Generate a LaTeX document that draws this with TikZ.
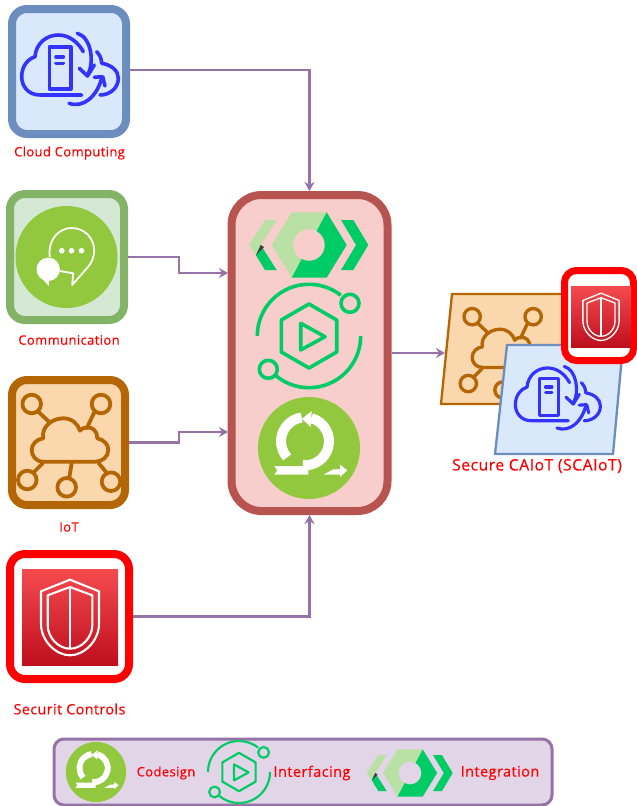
\documentclass[tikz,border=0pt]{standalone}
\usepackage{fontspec}
\setmainfont{Open Sans}[LetterSpace=3,FakeBold=.35]
\usetikzlibrary{arrows.meta,shadows}
\definecolor{linkcol}{HTML}{9673A6}
\definecolor{leafcol}{HTML}{92C83E}
\definecolor{mintcol}{HTML}{00CC66}
\definecolor{palecol}{HTML}{B9E0A5}
\definecolor{netcol}{HTML}{3333FF}
\definecolor{iotcol}{HTML}{B46504}
\definecolor{iotfill}{HTML}{FAD7AC}
\definecolor{cloudcol}{HTML}{6C8EBF}
\definecolor{cloudfill}{HTML}{DAE8FC}
\definecolor{commcol}{HTML}{82B366}
\definecolor{commfill}{HTML}{D5E8D4}
\definecolor{corecol}{HTML}{B85450}
\definecolor{corefill}{HTML}{F8CECC}
\definecolor{legendfill}{HTML}{E1D5E7}
\definecolor{paneltop}{HTML}{F54B4F}
\definecolor{panelbot}{HTML}{BE0F1E}

\newcommand{\cloudicon}[3]{
\begin{scope}[shift={(#1,#2)},scale=#3,draw=netcol,line width=#3*3.6pt,line cap=round,line join=round]
    \draw (12.7,23) -- (-29,23) .. controls (-41,23) and (-47.3,14) .. (-47.3,4.7) .. controls (-47.3,-6) and (-41,-13) .. (-34,-15.3) .. controls (-33,-29) and (-22,-37) .. (-10.7,-37) .. controls (0,-37) and (9,-30) .. (14.3,-20.3);
    \draw (27.7,-20.3) .. controls (31,-17) and (32.5,-13) .. (32.7,-8.7) .. controls (43,-7) and (49.3,-1) .. (49.3,6.3) .. controls (49.3,16) and (41,23) .. (31,23);
    \draw (-19.7,-25.3) rectangle (1.7,17);
    \draw (-13,-15.3) -- (-5.7,-15.3);
    \draw (-13,-8.7) -- (-5.7,-8.7);
    \draw (8.3,-38.7) .. controls (22,-35) and (26,-10) .. (18.5,3);
    \draw (10.3,-3.7) -- (18.5,4) -- (25.3,-7);
    \draw (0,31.3) .. controls (14.3,36.3) and (27.7,24.7) .. (32.7,6.3);
    \draw (25.3,5.3) -- (33.7,4.7) -- (36,14);
\end{scope}
}

\newcommand{\iothub}[3]{
\begin{scope}[shift={(#1,#2)},scale=#3,draw=iotcol,line width=#3*3.8pt,line cap=round,line join=round]
    \draw (-25.7,18.7) .. controls (-33,18.7) and (-37.3,13) .. (-37.3,7) .. controls (-37.3,1) and (-32,-4) .. (-25.7,-4.7) .. controls (-28,-16) and (-17,-24.7) .. (-5.7,-24.7) .. controls (3,-24.7) and (9,-19) .. (11,-12.3) .. controls (13,-16) and (22,-17) .. (25.3,-13) .. controls (27.5,-11) and (28.3,-8) .. (28.3,-4.7) .. controls (35,-3) and (39.3,1) .. (39.3,7) .. controls (39.3,14) and (33,18.7) .. (26,18.7) -- cycle;
    \draw (-37.3,-39) circle (9.3);
    \draw (32,-39) circle (9.3);
    \draw (-41.7,37) circle (9.3);
    \draw (-2.3,44.3) circle (9.3);
    \draw (42,38.7) circle (9.3);
    \draw (-30.7,-31.3) -- (-19,-20.3);
    \draw (25.3,-30.7) -- (17.7,-14.7);
    \draw (-35.7,29.7) -- (-26.3,20.3);
    \draw (0.3,34.3) -- (2.7,20.3);
    \draw (37.7,29.7) -- (29.3,19.7);
\end{scope}
}

\newcommand{\shieldicon}[3]{
\begin{scope}[shift={(#1,#2)},scale=#3,draw=white,line width=#3*2.1pt,line join=round]
    \draw (0,-37.3) -- (29,-25.7) -- (29,6.7) .. controls (29,24) and (14,38.3) .. (0,38.3) .. controls (-14,38.3) and (-29,24) .. (-29,6.7) -- (-29,-25.7) -- cycle;
    \draw (0,-30) -- (22.3,-21.7) -- (22.3,8.3) .. controls (22.3,20) and (12,31.7) .. (0,31.7) .. controls (-12,31.7) and (-22.3,20) .. (-22.3,8.3) -- (-22.3,-21.7) -- cycle;
    \draw (0,-30) -- (0,31.7);
\end{scope}
}

\newcommand{\hexlogo}[4]{
\begin{scope}[shift={(#1,#2)},scale=#3]
    \fill [palecol] (-17.3,-32.7) -- (17.7,-32.7) -- (-17.3,32.7) -- (-37.3,0) -- cycle;
    \fill [mintcol] (17.7,-32.7) -- (37.7,0) -- (17.7,32.7) -- (-17.3,32.7) -- cycle;
    \fill [#4] (0,0) circle (15.7);
    \fill [palecol] (-44,-25) -- (-32.3,-25) -- (-48.3,0) -- (-53,10.3) -- (-60,0) -- cycle;
    \fill [mintcol] (-48.3,0) -- (-32.3,25) -- (-44,25) -- (-53,10.3) -- cycle;
    \fill [black!75] (-48.3,0) -- (-45,2) -- (-53,10.3) -- cycle;
    \fill [mintcol] (32,-25) -- (44.3,-25) -- (59.3,0) -- (44.3,25) -- (32,25) -- (47,0) -- cycle;
\end{scope}
}

\newcommand{\playloop}[3]{
\begin{scope}[shift={(#1,#2)},scale=#3,draw=mintcol,line width=#3*3.6pt,line join=round]
    \draw (0,-32) -- (27.7,-16) -- (27.7,16) -- (0,32) -- (-27.7,16) -- (-27.7,-16) -- cycle;
    \draw (-8.3,-12.7) -- (16,0.7) -- (-8.3,14) -- cycle;
    \draw (-51.7,0) arc [start angle=180,end angle=308,radius=51.7];
    \draw (51.7,0) arc [start angle=0,end angle=130,radius=51.7];
    \draw (41,-32.7) circle (9);
    \draw (-40.7,33.3) circle (9);
\end{scope}
}

\newcommand{\sprintloop}[3]{
\begin{scope}[shift={(#1,#2)},scale=#3]
    \fill [leafcol] (0,0) circle (51);
    \draw [white,line width=#3*10pt] (-4,-6.7) ++(138:24) arc [start angle=138,end angle=262,radius=24];
    \draw [white,line width=#3*10pt] (-4,-6.7) ++(285:24) arc [start angle=285,end angle=455,radius=24];
    \fill [white] (-7,-29.3) -- (2.7,-37) -- (1.7,-21) -- cycle;
    \fill [white] (-34.7,18) -- (-0.7,18) -- (-0.7,26.7) -- (-34.7,26.7) -- (-31.7,22.4) -- cycle;
    \fill [white] (14.3,26.7) -- (24,21.5) -- (31,21) -- (31,16.7) -- (38.3,22.3) -- (31,29) -- (31,26.7) -- cycle;
\end{scope}
}

\begin{document}
\begin{tikzpicture}[x=1pt,y=-1pt]
\useasboundingbox (0,0) rectangle (637,806);
\tikzstyle{iconbox}=[draw,line width=8pt,rounded corners=15pt,inner sep=0pt,drop shadow={shadow xshift=1.5pt,shadow yshift=-1.5pt,opacity=.25,fill=black}]
\tikzstyle{labeltext}=[text=red,font=\fontsize{13}{15}\selectfont,inner sep=0pt]
\tikzstyle{link}=[draw=linkcol,line width=2.5pt,-{Stealth[length=9pt,width=10pt]}]
\tikzstyle{redpanel}=[inner sep=0pt,top color=paneltop,bottom color=panelbot]
\tikzstyle{card}=[line width=2.3pt,line join=miter]

% inputs
\node [iconbox,draw=cloudcol,fill=cloudfill,minimum width=114pt,minimum height=125pt] (cloudbox) at (69,71.5) {};
\node [iconbox,draw=commcol,fill=commfill,minimum width=114pt,minimum height=126pt] (commbox) at (67,257) {};
\node [iconbox,draw=iotcol,fill=iotfill,minimum width=113pt,minimum height=125pt] (iotbox) at (68.5,442.5) {};
\node [iconbox,draw=red,fill=white,minimum width=119pt,minimum height=125pt] (secbox) at (69.5,616.5) {};
\node [redpanel,minimum width=96pt,minimum height=96pt] (secpanel) at (70,617) {};

% core
\node [iconbox,draw=corecol,fill=corefill,rounded corners=30pt,minimum width=156pt,minimum height=316pt] (corebox) at (309.5,353) {};

% legend
\node [draw=linkcol,fill=legendfill,line width=3pt,rounded corners=10pt,minimum width=498pt,minimum height=66pt] (legendbox) at (303,772) {};

% secure caiot stack
\draw [card,draw=iotcol,fill=iotfill] (452,294) -- (572,294) -- (560,404) -- (441,404) -- cycle;
\iothub{505}{351}{.88}
\draw [card,draw=cloudcol,fill=cloudfill] (507,345) -- (623,345) -- (613,454) -- (495,454) -- cycle;
\cloudicon{557}{400.5}{.88}
\node [iconbox,draw=red,fill=white,line width=7pt,rounded corners=12pt,minimum width=69pt,minimum height=90pt] (tinybox) at (599,315.5) {};
\node [redpanel,minimum width=60pt,minimum height=61pt] (tinypanel) at (601,316.5) {};
\shieldicon{601}{316.5}{.625}

% icons
\cloudicon{69}{72}{1}
\fill [leafcol] (66.5,257) circle (51);
\begin{scope}[shift={(66.5,257)}]
    \draw [white,line width=1.8pt,line join=round] (-16.7,0) .. controls (-19,-18) and (-7,-29) .. (5,-29) .. controls (18,-29) and (27.7,-19) .. (27.7,-6.3) .. controls (27.7,0) and (25,6) .. (21.7,9.7) -- (5.7,28) -- (6.7,16.3) -- (-6.7,14);
    \fill [white] (-18.3,12.3) circle (11.7);
    \fill [white] (-25,21) -- (-17.7,29) -- (-17.7,21) -- cycle;
    \fill [white] (-4.7,-6.3) circle (2.8);
    \fill [white] (5,-6.3) circle (2.8);
    \fill [white] (15,-6.3) circle (2.8);
\end{scope}
\iothub{69}{443}{1}
\shieldicon{70}{617}{1}
\hexlogo{309}{245}{1}{corefill}
\playloop{309}{336}{1}
\sprintloop{309}{448}{1}
\sprintloop{96}{772}{.59}
\playloop{239}{772}{.6}
\hexlogo{410}{773}{.72}{legendfill}

% connectors
\coordinate (commin) at (228,273);
\coordinate (iotin) at (228,432);
\coordinate (stackin) at (445,353);
\draw [link] ([yshift=1.5pt]cloudbox.east) -| (corebox.north);
\draw [link] (commbox.east) -- ++(51,0) |- (commin);
\draw [link] (iotbox.east) -- ++(50,0) |- (iotin);
\draw [link] (secbox.east) -| (corebox.south);
\draw [link] (corebox.east) -- (stackin);

% labels
\node [labeltext] (cloudlabel) at (69.5,153) {Cloud Computing};
\node [labeltext] (commlabel) at (69,340) {Communication};
\node [labeltext] (iotlabel) at (69,527) {IoT};
\node [labeltext,font=\fontsize{14.3}{17}\selectfont] (seclabel) at (69.5,709) {Securit Controls};
\node [labeltext,font=\fontsize{15.8}{18}\selectfont] (stacklabel) at (537,466) {Secure CAIoT (SCAIoT)};
\node [labeltext] (codesignlabel) at (166,773) {Codesign};
\node [labeltext,font=\fontsize{14.5}{17}\selectfont] (interfacinglabel) at (312,773) {Interfacing};
\node [labeltext,font=\fontsize{14.5}{17}\selectfont] (integrationlabel) at (500,773) {Integration};
\end{tikzpicture}
\end{document}
